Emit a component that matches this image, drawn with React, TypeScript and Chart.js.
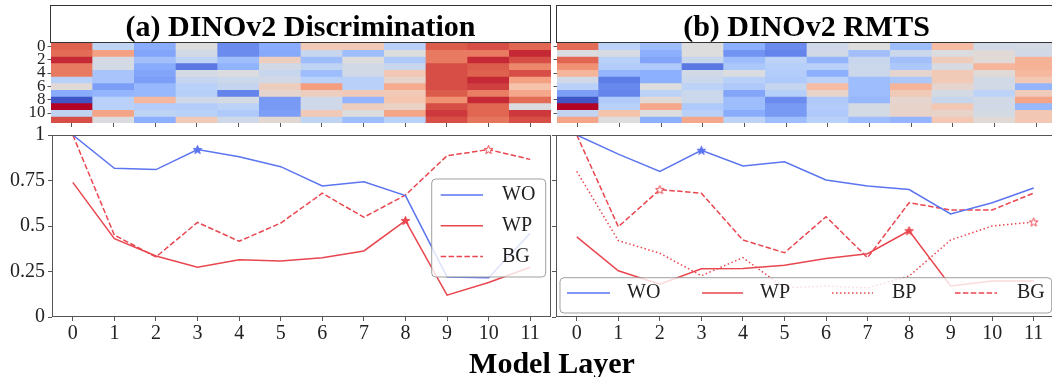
import React, { useEffect, useRef } from "react";
import { Chart, registerables } from "chart.js";

Chart.register(...registerables);

const FONT = "'Liberation Serif', 'Times New Roman', Times, serif";
const AXIS = "#555555";
const BLUE = "#5b74f0";
const RED = "#e9464f";

// ---------- data ----------
const layers = ["0", "1", "2", "3", "4", "5", "6", "7", "8", "9", "10", "11"];
const lineYTicks = [0, 0.25, 0.5, 0.75, 1];
const heatRowTicks = [0, 2, 4, 6, 8, 10];

// (a) DINOv2 Discrimination
const discWO = [1.0, 0.817, 0.81, 0.92, 0.88, 0.826, 0.72, 0.743, 0.667, 0.22, 0.216, 0.46];
const discWP = [0.74, 0.43, 0.335, 0.273, 0.315, 0.308, 0.326, 0.363, 0.53, 0.12, 0.19, 0.273];
const discBG = [1.0, 0.45, 0.33, 0.52, 0.416, 0.516, 0.68, 0.548, 0.67, 0.886, 0.92, 0.866];
const discStars = { WO: 3, WP: 8, BG: 10 };

// (b) DINOv2 RMTS
const rmtsWO = [1.0, 0.895, 0.8, 0.916, 0.83, 0.853, 0.753, 0.72, 0.7, 0.566, 0.628, 0.709];
const rmtsWP = [0.44, 0.254, 0.18, 0.265, 0.267, 0.285, 0.322, 0.348, 0.474, 0.17, 0.198, 0.198];
const rmtsBP = [0.8, 0.42, 0.35, 0.227, 0.326, 0.16, 0.17, 0.16, 0.225, 0.423, 0.5, 0.522];
const rmtsBG = [1.0, 0.496, 0.7, 0.68, 0.423, 0.353, 0.551, 0.326, 0.628, 0.588, 0.588, 0.681];
const rmtsStars = { WO: 3, WP: 8, BP: 11, BG: 2 };

// heatmap values (0 = blue, 0.5 = neutral, 1 = red), rows 0..11, columns = layers
const discHeat = [
  [0.87, 0.40, 0.24, 0.50, 0.15, 0.24, 0.60, 0.60, 0.38, 0.88, 0.90, 0.86],
  [0.85, 0.73, 0.22, 0.46, 0.15, 0.23, 0.43, 0.30, 0.50, 0.82, 0.82, 0.95],
  [0.95, 0.47, 0.31, 0.40, 0.30, 0.58, 0.30, 0.50, 0.35, 0.82, 0.95, 0.90],
  [0.82, 0.47, 0.24, 0.10, 0.26, 0.46, 0.40, 0.46, 0.43, 0.90, 0.88, 0.79],
  [0.82, 0.33, 0.22, 0.47, 0.49, 0.43, 0.30, 0.46, 0.61, 0.90, 0.87, 0.90],
  [0.38, 0.33, 0.20, 0.42, 0.44, 0.46, 0.38, 0.38, 0.55, 0.90, 0.95, 0.73],
  [0.52, 0.20, 0.28, 0.38, 0.42, 0.58, 0.74, 0.38, 0.70, 0.90, 0.92, 0.63],
  [0.24, 0.27, 0.28, 0.37, 0.13, 0.54, 0.58, 0.60, 0.60, 0.88, 0.81, 0.71],
  [0.02, 0.38, 0.66, 0.45, 0.47, 0.19, 0.45, 0.27, 0.62, 0.77, 0.95, 0.85],
  [1.00, 0.38, 0.36, 0.36, 0.39, 0.19, 0.45, 0.58, 0.56, 0.90, 0.86, 0.49],
  [0.40, 0.72, 0.40, 0.38, 0.35, 0.20, 0.60, 0.50, 0.72, 0.93, 0.86, 0.93],
  [0.90, 0.49, 0.25, 0.60, 0.45, 0.53, 0.40, 0.30, 0.38, 0.90, 0.83, 0.90],
];
const rmtsHeat = [
  [0.85, 0.39, 0.30, 0.50, 0.25, 0.15, 0.45, 0.50, 0.30, 0.65, 0.46, 0.47],
  [0.49, 0.48, 0.25, 0.50, 0.17, 0.13, 0.46, 0.31, 0.44, 0.49, 0.52, 0.46],
  [0.86, 0.38, 0.22, 0.43, 0.30, 0.39, 0.27, 0.43, 0.31, 0.59, 0.52, 0.68],
  [0.77, 0.36, 0.35, 0.10, 0.34, 0.37, 0.38, 0.44, 0.34, 0.48, 0.67, 0.68],
  [0.67, 0.27, 0.25, 0.46, 0.49, 0.36, 0.25, 0.44, 0.54, 0.60, 0.52, 0.66],
  [0.46, 0.11, 0.25, 0.44, 0.38, 0.35, 0.39, 0.30, 0.34, 0.60, 0.46, 0.61],
  [0.38, 0.14, 0.50, 0.39, 0.35, 0.42, 0.65, 0.30, 0.67, 0.54, 0.46, 0.27],
  [0.20, 0.13, 0.39, 0.44, 0.22, 0.37, 0.55, 0.30, 0.60, 0.47, 0.39, 0.59],
  [0.02, 0.35, 0.52, 0.44, 0.30, 0.15, 0.35, 0.28, 0.54, 0.43, 0.46, 0.72],
  [1.00, 0.38, 0.71, 0.35, 0.30, 0.19, 0.36, 0.47, 0.55, 0.61, 0.46, 0.28],
  [0.41, 0.63, 0.50, 0.38, 0.24, 0.19, 0.35, 0.47, 0.55, 0.55, 0.47, 0.61],
  [0.72, 0.50, 0.25, 0.71, 0.39, 0.30, 0.38, 0.30, 0.27, 0.61, 0.52, 0.61],
];

// ---------- helpers ----------
const CW = [
  [59, 76, 192], [98, 130, 234], [141, 176, 254], [184, 208, 249], [221, 221, 221],
  [245, 196, 173], [244, 154, 123], [222, 96, 77], [180, 4, 38],
];
function coolwarm(v: number) {
  const t = Math.max(0, Math.min(1, v)) * 8;
  const i = Math.min(7, Math.floor(t));
  const f = t - i;
  const a = CW[i], b = CW[i + 1];
  const c = a.map((x, k) => Math.round(x + (b[k] - x) * f));
  return `rgb(${c[0]},${c[1]},${c[2]})`;
}

function makeStar(fill: string, stroke: string) {
  const c = document.createElement("canvas");
  const s = 11;
  c.width = s;
  c.height = s;
  const g = c.getContext("2d")!;
  const R = 4.6, r = 1.9, cx = s / 2, cy = s / 2 + 0.4;
  g.beginPath();
  for (let i = 0; i < 10; i++) {
    const ang = -Math.PI / 2 + (i * Math.PI) / 5;
    const rad = i % 2 === 0 ? R : r;
    g.lineTo(cx + rad * Math.cos(ang), cy + rad * Math.sin(ang));
  }
  g.closePath();
  g.fillStyle = fill;
  g.fill();
  g.strokeStyle = stroke;
  g.lineWidth = 1;
  g.stroke();
  return c;
}

type LineSpec = { label: string; data: number[]; color: string; dash: number[]; star: number; open: boolean };
type LegendSpec = { box: number[]; entries: number[][] };

function makeFramePlugin(legend: LegendSpec) {
  return {
    id: "frameLegend",
    afterDatasetsDraw(chart: any) {
      const { ctx, chartArea: a } = chart;
      ctx.save();
      ctx.strokeStyle = AXIS;
      ctx.lineWidth = 1;
      ctx.strokeRect(a.left + 0.5, a.top + 0.5, a.right - a.left - 1, a.bottom - a.top - 1);
      const [bx, by, bw, bh] = legend.box;
      ctx.beginPath();
      ctx.roundRect(a.left + bx, a.top + by, bw, bh, 4);
      ctx.fillStyle = "rgba(255,255,255,0.8)";
      ctx.fill();
      ctx.strokeStyle = "rgba(150,150,150,0.9)";
      ctx.lineWidth = 1;
      ctx.stroke();
      chart.data.datasets.forEach((ds: any, i: number) => {
        const e = legend.entries[i];
        if (!e) return;
        ctx.beginPath();
        ctx.setLineDash(ds.borderDash || []);
        ctx.strokeStyle = ds.borderColor;
        ctx.lineWidth = 1.5;
        ctx.moveTo(a.left + e[0], a.top + e[3]);
        ctx.lineTo(a.left + e[1], a.top + e[3]);
        ctx.stroke();
        ctx.setLineDash([]);
        ctx.fillStyle = "#222";
        ctx.font = `20px ${FONT}`;
        ctx.textBaseline = "middle";
        ctx.textAlign = "left";
        ctx.fillText(ds.label, a.left + e[2], a.top + e[3]);
      });
      ctx.restore();
    },
  };
}

function LinePanel(props: {
  lines: LineSpec[]; legend: LegendSpec; showY: boolean; yW: number;
  left: number; top: number; width: number; height: number; padTop: number; padRight: number; xH: number;
}) {
  const ref = useRef<HTMLCanvasElement>(null);
  useEffect(() => {
    const p = props;
    const font = { family: FONT, size: 20 };
    const chart = new Chart(ref.current!, {
      type: "line",
      data: {
        labels: layers,
        datasets: p.lines.map((l) => {
          const img = l.open ? makeStar("#ffffff", l.color) : makeStar(l.color, l.color);
          return {
            label: l.label,
            data: l.data,
            borderColor: l.color,
            backgroundColor: l.color,
            borderWidth: 1.5,
            borderDash: l.dash,
            borderCapStyle: "butt",
            fill: false,
            tension: 0,
            pointRadius: (c: any) => (c.dataIndex === l.star ? 4 : 0),
            pointHoverRadius: 0,
            pointStyle: img as any,
          } as any;
        }),
      },
      options: {
        responsive: false,
        animation: false,
        events: [],
        layout: { padding: { top: p.padTop, right: p.padRight, left: 0, bottom: 0 } },
        scales: {
          x: {
            type: "category",
            offset: true,
            grid: { display: true, drawOnChartArea: false, drawTicks: true, tickLength: 4, color: AXIS, offset: false },
            border: { display: false },
            ticks: { font, color: "#222", padding: 1, maxRotation: 0, autoSkip: false },
            afterFit: (s: any) => { s.height = p.xH; s.paddingLeft = 0; s.paddingRight = 0; },
          },
          y: {
            type: "linear",
            min: 0,
            max: 1,
            afterBuildTicks: (s: any) => { s.ticks = lineYTicks.map((v) => ({ value: v })); },
            grid: { display: true, drawOnChartArea: false, drawTicks: true, tickLength: 4, color: AXIS },
            border: { display: false },
            ticks: { display: p.showY, font, color: "#222", padding: 3, autoSkip: false, callback: (v: any) => String(v) },
            afterFit: (s: any) => { s.width = p.yW; s.paddingTop = 0; s.paddingBottom = 0; },
          },
        },
        plugins: { legend: { display: false }, tooltip: { enabled: false } },
      },
      plugins: [makeFramePlugin(p.legend)],
    } as any);
    return () => chart.destroy();
  }, []);
  return (
    <canvas
      ref={ref}
      width={props.width}
      height={props.height}
      style={{ position: "absolute", left: props.left, top: props.top, width: props.width, height: props.height }}
    />
  );
}

function HeatPanel(props: {
  values: number[][]; showY: boolean; yW: number;
  left: number; top: number; width: number; height: number; padTop: number; padRight: number; xH: number;
}) {
  const ref = useRef<HTMLCanvasElement>(null);
  useEffect(() => {
    const p = props;
    const chart = new Chart(ref.current!, {
      type: "bar",
      data: {
        labels: layers,
        datasets: p.values.map((row, r) => ({
          data: row.map(() => [r, r + 1]),
          backgroundColor: row.map(coolwarm),
          borderWidth: 0,
          categoryPercentage: 1,
          barPercentage: 1,
          grouped: false,
        })),
      },
      options: {
        responsive: false,
        animation: false,
        events: [],
        layout: { padding: { top: p.padTop, right: p.padRight, left: 0, bottom: 0 } },
        scales: {
          x: {
            type: "category",
            offset: true,
            grid: { display: true, drawOnChartArea: false, drawTicks: true, tickLength: 4, color: AXIS, offset: false },
            border: { display: false },
            ticks: { display: false },
            afterFit: (s: any) => { s.height = p.xH; s.paddingLeft = 0; s.paddingRight = 0; },
          },
          y: {
            type: "linear",
            min: 0,
            max: layers.length,
            reverse: true,
            afterBuildTicks: (s: any) => { s.ticks = heatRowTicks.map((v) => ({ value: v + 0.5 })); },
            grid: { display: true, drawOnChartArea: false, drawTicks: true, tickLength: 3.5, color: AXIS },
            border: { display: false },
            ticks: {
              display: p.showY,
              autoSkip: false,
              font: { family: FONT, size: 17, lineHeight: 1 },
              color: "#222",
              padding: 2,
              callback: (v: any) => String(Math.round(v - 0.5)),
            },
            afterFit: (s: any) => { s.width = p.yW; s.paddingTop = 0; s.paddingBottom = 0; },
          },
        },
        plugins: { legend: { display: false }, tooltip: { enabled: false } },
      },
    } as any);
    return () => chart.destroy();
  }, []);
  return (
    <canvas
      ref={ref}
      width={props.width}
      height={props.height}
      style={{ position: "absolute", left: props.left, top: props.top, width: props.width, height: props.height }}
    />
  );
}

const discLines: LineSpec[] = [
  { label: "WO", data: discWO, color: BLUE, dash: [], star: discStars.WO, open: false },
  { label: "WP", data: discWP, color: RED, dash: [], star: discStars.WP, open: false },
  { label: "BG", data: discBG, color: RED, dash: [5.5, 2.4], star: discStars.BG, open: true },
];
const rmtsLines: LineSpec[] = [
  { label: "WO", data: rmtsWO, color: BLUE, dash: [], star: rmtsStars.WO, open: false },
  { label: "WP", data: rmtsWP, color: RED, dash: [], star: rmtsStars.WP, open: false },
  { label: "BP", data: rmtsBP, color: RED, dash: [1.5, 2.5], star: rmtsStars.BP, open: true },
  { label: "BG", data: rmtsBG, color: RED, dash: [5.5, 2.4], star: rmtsStars.BG, open: true },
];

const discLegend: LegendSpec = {
  box: [379.7, 44, 114, 98],
  entries: [
    [388.7, 431, 450, 60],
    [388.7, 431, 450, 90.7],
    [388.7, 431, 450, 121.4],
  ],
};
const rmtsLegend: LegendSpec = {
  box: [4, 142.7, 491.7, 35.3],
  entries: [
    [11, 54, 71, 158],
    [146, 187, 204, 158],
    [276, 317, 336, 158],
    [399, 441, 461, 158],
  ],
};

function TitleBox(props: { left: number; width: number; text: string }) {
  return (
    <div
      style={{
        position: "absolute",
        left: props.left,
        top: 5,
        width: props.width,
        height: 38,
        boxSizing: "border-box",
        border: "1.5px solid #333",
        paddingTop: 3,
        display: "flex",
        alignItems: "center",
        justifyContent: "center",
        font: `bold 30px ${FONT}`,
        color: "#000",
        whiteSpace: "nowrap",
      }}
    >
      {props.text}
    </div>
  );
}

export default function App() {
  return (
    <div
      style={{
        position: "absolute",
        left: 0,
        top: 0,
        width: 1052,
        height: 377,
        overflow: "hidden",
        background: "#fff",
        fontFamily: FONT,
      }}
    >
      <HeatPanel values={discHeat} showY={true} yW={51} left={0} top={30} width={553} height={100} padTop={13} padRight={2} xH={7} />
      <HeatPanel values={rmtsHeat} showY={false} yW={17} left={540} top={30} width={520} height={100} padTop={13} padRight={3} xH={7} />
      <LinePanel lines={discLines} legend={discLegend} showY={true} yW={52} left={0} top={118} width={553} height={232} padTop={17} padRight={2} xH={33} />
      <LinePanel lines={rmtsLines} legend={rmtsLegend} showY={false} yW={16} left={540} top={118} width={520} height={232} padTop={17} padRight={3} xH={33} />
      <TitleBox left={50} width={501} text="(a) DINOv2 Discrimination" />
      <TitleBox left={556} width={501} text="(b) DINOv2 RMTS" />
      <div
        style={{
          position: "absolute",
          left: 0,
          top: 345,
          width: 1104,
          textAlign: "center",
          font: `bold 30px ${FONT}`,
          lineHeight: "36px",
          color: "#000",
        }}
      >
        Model Layer
      </div>
    </div>
  );
}
